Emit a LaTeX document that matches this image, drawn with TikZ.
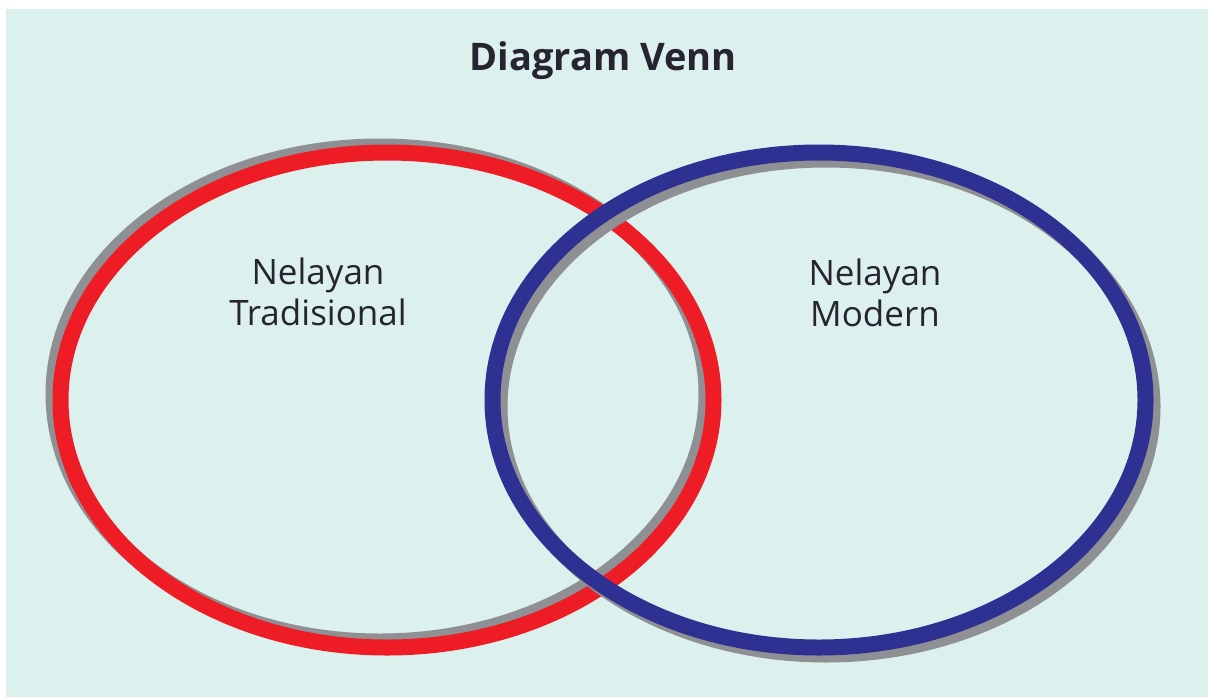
\documentclass[tikz,border=0pt]{standalone}
\usepackage{fontspec}
\setmainfont{Open Sans}
\usepackage{tikz}
\usetikzlibrary{shapes.geometric, positioning}
\definecolor{bgpanel}{HTML}{DCF0ED}
\definecolor{textprimary}{HTML}{262430}
\definecolor{redring}{HTML}{EE1C25}
\definecolor{bluering}{HTML}{2E3192}
\definecolor{shadowgray}{HTML}{8E9094}

\begin{document}
\begin{tikzpicture}[
    x=1pt, y=-1pt,
    ring/.style={ellipse, inner sep=0pt, minimum width=653pt, minimum height=495pt, line width=16pt},
    titletext/.style={text=textprimary, font=\fontsize{38}{44}\selectfont\bfseries},
    settext/.style={text=textprimary, align=center, font=\fontsize{35}{41}\selectfont}
]
    \useasboundingbox (0,0) rectangle (1210,697);
    \fill[white] (0,0) rectangle (1210,697);
    \fill[bgpanel] (6,9) rectangle (1208,697);

    % Traditional ring with its shadow
    \node[ring, draw=shadowgray] (tradshadow) at (380,394) {};
    \node[ring, draw=redring] (trad) at (387,400) {};

    % Modern ring with its shadow
    \node[ring, draw=shadowgray] (modshadow) at (826,407) {};
    \node[ring, draw=bluering] (modern) at (819,400) {};

    % Labels
    \node[titletext] (title) at (603,61) {Diagram Venn};
    \node[settext] (tradlabel) at (318,292) {Nelayan\\Tradisional};
    \node[settext] (modlabel) at (875,293) {Nelayan\\Modern};
\end{tikzpicture}
\end{document}
